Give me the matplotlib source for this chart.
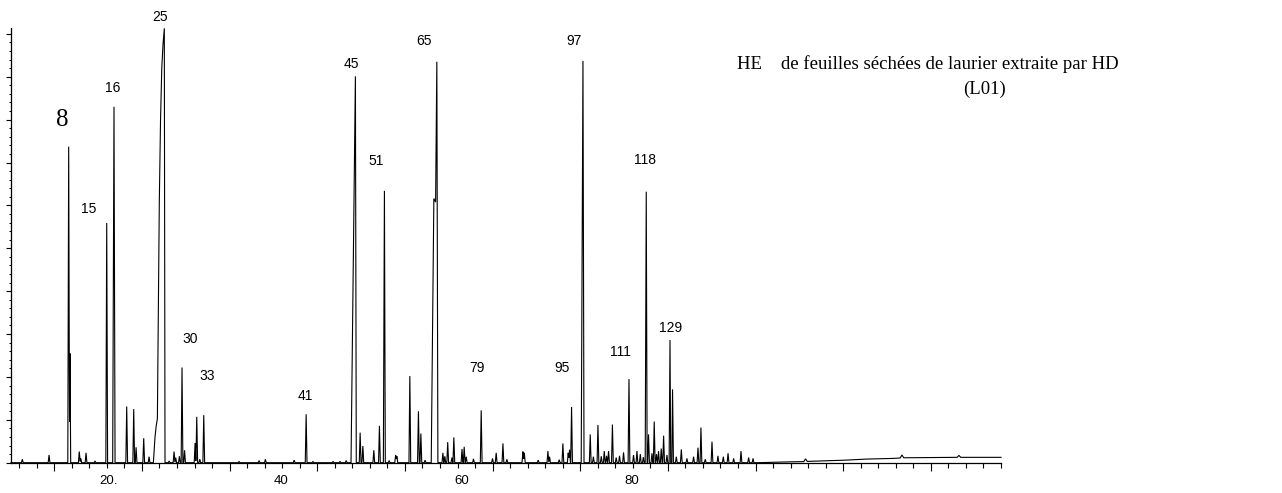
import numpy as np
import matplotlib
matplotlib.use("Agg")
import matplotlib.pyplot as plt
from matplotlib.ticker import MultipleLocator, FixedLocator

# ---------------- data ----------------
# main (labelled / large) peaks: retention time, apex height (% full scale)
main_t = [15.64, 15.79, 19.98, 20.81, 28.57, 31.05, 42.73, 48.35, 51.66,
          57.30, 57.64, 62.70, 73.01, 74.31, 79.56, 81.53, 84.24, 84.53]
main_h = [73.7, 25.5, 55.9, 83.0, 22.2, 11.1, 11.3, 90.1, 63.4,
          61.6, 93.5, 12.2, 13.0, 93.7, 19.5, 63.2, 28.6, 17.1]
main_wl = [0.10, 0.08, 0.10, 0.15, 0.10, 0.10, 0.10, 0.50, 0.12,
           0.30, 0.40, 0.10, 0.10, 0.20, 0.10, 0.12, 0.10, 0.08]
main_wr = [0.10, 0.08, 0.10, 0.12, 0.10, 0.10, 0.10, 0.10, 0.10,
           0.20, 0.12, 0.10, 0.10, 0.12, 0.10, 0.10, 0.08, 0.10]

# small peaks (default narrow shape)
small_t = [10.35, 13.40, 16.85, 17.02, 17.62, 18.65, 22.26, 23.06, 23.33,
           24.20, 24.81, 27.10, 27.66, 27.85, 28.27, 28.86, 30.06, 30.25,
           30.60, 35.08, 37.36, 38.08, 41.36, 43.50, 45.80, 46.60, 47.30,
           48.89, 49.20, 50.45, 51.09, 52.20, 52.94, 53.08, 54.56, 55.54,
           55.82, 56.30, 58.33, 58.55, 58.88, 59.36, 59.58, 60.51, 60.76,
           60.99, 61.82, 63.99, 64.41, 65.18, 65.63, 67.46, 67.62, 69.20,
           70.31, 70.50, 71.60, 72.02, 72.63, 72.78, 75.14, 75.50, 76.02,
           76.40, 76.74, 77.00, 77.23, 77.67, 78.10, 78.48, 78.94, 80.08,
           80.47, 80.85, 81.20, 81.79, 82.18, 82.44, 82.70, 82.93, 83.24,
           83.51, 83.89, 84.96, 85.53, 86.17, 86.93, 87.43, 87.77, 88.26,
           89.03, 89.71, 90.32, 90.86, 91.50, 92.34, 93.21, 93.71]
small_h = [0.8, 1.8, 2.6, 1.0, 2.3, 0.4, 13.1, 12.5, 3.6,
           5.7, 1.4, 0.4, 2.6, 1.2, 1.5, 2.9, 4.6, 10.7,
           0.8, 0.3, 0.5, 0.8, 0.6, 0.3, 0.3, 0.3, 0.5,
           7.0, 3.9, 2.9, 8.6, 0.5, 1.8, 1.5, 20.2, 12.0,
           6.8, 0.6, 2.3, 1.5, 4.8, 1.2, 5.9, 3.2, 3.7,
           1.4, 0.9, 1.0, 2.3, 4.5, 0.8, 2.6, 2.3, 0.6,
           2.7, 1.4, 0.7, 4.5, 2.3, 3.0, 6.6, 1.4, 8.8,
           1.5, 2.7, 1.6, 2.7, 8.9, 1.2, 1.6, 2.4, 1.8,
           2.7, 2.0, 1.3, 6.6, 2.2, 9.6, 2.0, 2.7, 3.3,
           6.3, 1.8, 1.4, 3.1, 1.0, 1.4, 3.5, 8.2, 0.8,
           4.9, 1.6, 1.4, 2.2, 1.0, 2.7, 1.2, 1.0]

# profile of the broad, fronting peak 25
p25_t = [25.30, 25.49, 25.62, 25.76, 25.98, 26.12, 26.26, 26.40, 26.55, 26.63]
p25_y = [0.0, 6.0, 8.5, 10.3, 61.0, 80.0, 92.0, 97.5, 101.3, 0.0]

# drifting baseline at the end of the run
tail_t = [94.2, 96.0, 98.0, 99.5, 99.7, 99.9, 102.0, 104.3, 106.7, 109.7,
          110.5, 110.7, 110.9, 114.0, 117.0, 117.2, 117.4, 120.0, 122.0]
tail_y = [0.0, 0.1, 0.2, 0.25, 0.9, 0.3, 0.45, 0.6, 0.85, 1.0,
          1.1, 1.8, 1.15, 1.2, 1.25, 1.7, 1.25, 1.25, 1.25]

# peak numbers written above the peaks
label_txt = ["15", "16", "25", "30", "33", "41", "45", "51", "65",
             "79", "95", "97", "111", "118", "129"]
label_t = [17.90, 20.67, 26.06, 29.52, 31.49, 42.59, 47.94, 50.66, 56.19,
           62.24, 71.89, 73.31, 78.56, 81.42, 84.27]
label_y = [59.1, 87.3, 104.0, 28.8, 20.2, 15.5, 92.9, 70.4, 98.3,
           22.2, 22.2, 98.3, 25.9, 70.6, 31.4]
big_label = "8"
big_label_t, big_label_y = 14.85, 79.9

xtick_text = ["20.", "40", "60", "80"]
xtick_pos = [20.2, 39.9, 60.5, 79.9]

title1 = "HE    de feuilles séchées de laurier extraite par HD"
title2 = "(L01)"

# ---------------- build the trace ----------------
SMALL_W = 0.1
all_t = main_t + small_t
all_h = main_h + small_h
all_wl = main_wl + [SMALL_W] * len(small_t)
all_wr = main_wr + [SMALL_W] * len(small_t)


def render(lo, hi):
    xs = {lo, hi}
    sel = [i for i in range(len(all_t)) if lo < all_t[i] < hi]
    for i in sel:
        xs.update([all_t[i] - all_wl[i], all_t[i], all_t[i] + all_wr[i]])
    xs = np.array(sorted(x for x in xs if lo <= x <= hi))
    ys = np.zeros_like(xs)
    for i in sel:
        t, h, wl, wr = all_t[i], all_h[i], all_wl[i], all_wr[i]
        tri = np.where(xs <= t, h * (1 - (t - xs) / wl), h * (1 - (xs - t) / wr))
        ys = np.maximum(ys, np.clip(tri, 0, None))
    return xs, ys


x1, y1 = render(9.06, p25_t[0])
x2, y2 = render(p25_t[-1], tail_t[0])
trace_x = np.concatenate([x1, p25_t, x2, tail_t])
trace_y = np.concatenate([y1, p25_y, y2, tail_y])

# ---------------- draw ----------------
fig = plt.figure(figsize=(12.82, 4.93), dpi=100)
ax = fig.add_axes([11 / 1282, (493 - 462.7) / 493, (1001 - 11) / 1282, 434.4 / 493])
ax.plot(trace_x, trace_y, color="black", lw=0.8, solid_joinstyle="miter",
        clip_on=False)
ax.set_xlim(9.06, 122.0)
ax.set_ylim(0, 101.3)

for s in ("top", "right"):
    ax.spines[s].set_visible(False)
for s in ("left", "bottom"):
    ax.spines[s].set_linewidth(0.9)

ax.xaxis.set_major_locator(FixedLocator(np.arange(14, 123, 10)))
ax.xaxis.set_minor_locator(FixedLocator(np.arange(10, 123, 2)))
ax.tick_params(axis="x", which="major", length=6, width=0.8, direction="out",
               labelbottom=False)
ax.tick_params(axis="x", which="minor", length=3.8, width=0.8, direction="out")
ax.yaxis.set_major_locator(MultipleLocator(10))
ax.yaxis.set_minor_locator(MultipleLocator(2))
ax.tick_params(axis="y", which="major", length=3.8, width=0.8, labelleft=False)
ax.tick_params(axis="y", which="minor", length=1.8, width=0.7)

sans = ["Liberation Sans", "DejaVu Sans"]
serif = ["Liberation Serif", "DejaVu Serif"]
for txt, xp in zip(xtick_text, xtick_pos):
    ax.text(xp, -0.042, txt, transform=ax.get_xaxis_transform(),
            ha="center", va="center", fontsize=9.5, family=sans)

for txt, xp, yp in zip(label_txt, label_t, label_y):
    ax.text(xp, yp, txt, ha="center", va="center", fontsize=10, family=sans,
            clip_on=False)
ax.text(big_label_t, big_label_y, big_label, ha="center", va="center",
        fontsize=18, family=serif)

fig.text(737 / 1282, 1 - 64 / 493, title1, ha="left", va="center",
         fontsize=13.5, family=serif)
fig.text(984 / 1282, 1 - 89 / 493, title2, ha="center", va="center",
         fontsize=13.5, family=serif)

fig.savefig("out.png", dpi=100)
